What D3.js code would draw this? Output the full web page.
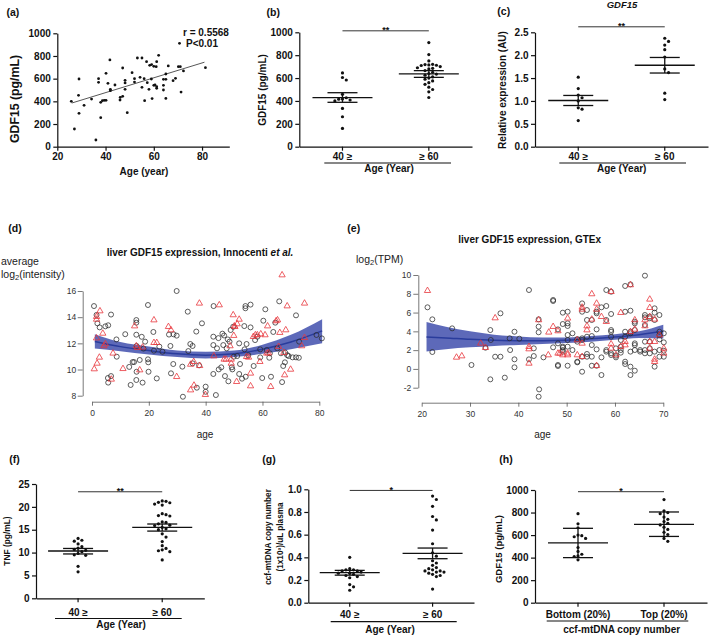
<!DOCTYPE html>
<html><head><meta charset="utf-8">
<script src="https://d3js.org/d3.v7.min.js"></script>
<style>html,body{margin:0;padding:0;background:#fff;}svg{display:block;}</style>
</head><body>
<script>
const FONT = '"Liberation Sans", Arial, Helvetica, sans-serif';

// ---------------- DATA ----------------
// (a) age vs GDF15
const aXTicks = [20, 40, 60, 80];
const aYTicks = [0, 200, 400, 600, 800, 1000];
const aPoints = [[25.8,400],[27.1,156],[29,597],[28.8,453],[29,294],[31.1,365],[34.2,420],[36,59],[37.1,600],[37.1,568],
 [38,256],[38,391],[38.7,406],[39.5,409],[40.2,409],[40.2,647],[41,559],[41.8,765],[42,506],[42,494],[43.9,544],[46,412],
 [46.1,435],[47.1,444],[47.1,694],[48.1,506],[48.1,585],[48.1,562],[49,300],[51,653],[52,600],[52,570],[53.2,782],[54.3,612],
 [55.1,782],[55.1,524],[56,600],[56.2,406],[57,750],[57.3,565],[58,506],[58.3,718],[59,597],[59.3,424],[59.1,724],[60,709],
 [60,541],[60.5,544],[61,706],[61.2,750],[61.2,529],[61.2,515],[62,806],[64,541],[64,500],[64,594],[65,426],[65,594],[65,641],
 [66,712],[68,582],[69,603],[70.2,706],[71,706],[71.3,482],[72.3,668],[81.4,697]];
const aRegAge = [26, 81];
const aRegFit = [385, 745];
const aStats = ["r = 0.5568", "P<0.01"];

// (b) GDF15 by age group
const ageCats = ["40 \u2265", "\u2265 60"];
const bYoung = [645,605,583,458,428,417,415,408,400,335,262,160];
const bOld = [910,805,750,720,718,715,712,710,700,690,685,680,665,650,640,635,625,610,600,590,575,560,545,520,500,480,430];
const bMean = [429, 636], bLo = [388, 606], bHi = [472, 665];

// (c) relative expression GDF15
const cYoung = [1.52,1.27,1.13,1.07,1.00,0.85,0.82,0.57];
const cOld = [2.37,2.30,2.22,2.12,1.96,1.70,1.62,1.17,1.03];
const cMean = [1.01, 1.78], cLo = [0.90, 1.61], cHi = [1.12, 1.95];

// (d) Innocenti liver GDF15 (age, average log2 intensity)
const dCircles = [[0.7,14.85],[1.6,14.17],[1.9,13.53],[2.7,13.22],[4.7,13.3],[5.7,13.38],[5.6,9.35],[5.7,9.0],[6.7,9.5],[6.7,14.2],
 [8.6,12.3],[8.7,10.98],[11.7,12.7],[13.1,10.2],[13.6,8.82],[14.3,10.57],[14.8,10.57],[15.6,13.78],[15.6,13.58],[15.6,12.66],
 [15.7,11.8],[15.7,9.83],[15.6,9.2],[16.8,10.73],[17.5,12.5],[18.1,11.6],[17.8,9.0],[18.7,12.13],[19.7,14.93],[19.7,10.78],
 [19.8,10.55],[19.9,9.83],[21.6,12.87],[21.8,11.44],[22.8,9.32],[23.7,11.75],[24.8,11.36],[27.1,12.67],[27.6,11.8],[27.8,9.71],
 [28.6,10.42],[28.7,12.69],[29.8,16.0],[29.8,12.59],[31.8,10.22],[32.0,7.92],[33.7,14.42],[33.9,11.41],[34.6,11.95],[35.4,11.8],
 [35.4,10.47],[36.7,12.9],[36.9,8.61],[37.7,10.32],[38.7,13.53],[40.0,8.69],[40.0,8.3],[42.7,12.51],[42.7,11.87],[42.7,9.66],
 [42.8,14.85],[43.6,8.05],[44,11.62],[44.6,10.01],[45.5,10.17],[45.9,12.74],[46.2,11.87],[46.8,9.5],[47.4,11.62],[48,9.1],
 [48.4,12.13],[48.8,13.02],[49.2,10.17],[49.4,10.01],[49.9,10.98],[51.1,11.03],[51.8,12.0],[51.8,9.66],[52.1,10.42],[52.8,9.3],
 [53.6,13.32],[53.7,11.54],[54.1,9.45],[54,14.85],[54,14.68],[54.4,11.95],[55,11.1],[55.8,14.96],[55.8,13.22],[56.9,10.27],
 [57.4,12.25],[58.2,12.51],[59.2,11.54],[59.2,10.93],[59.9,9.35],[60.3,13.73],[61,14.6],[61.5,11.49],[62.4,10.9],[62.6,11.24],
 [63,9.45],[63.8,12.87],[64.5,13.58],[65.2,11.62],[65.9,15.21],[66.5,11.24],[66.9,9.04],[67.3,10.27],[67.9,10.55],[68,11.29],
 [68.7,11.1],[69.2,11.03],[70.6,10.93],[71.8,14.14],[71.8,10.93],[72.8,10.9],[72.9,12.13],[79,12.64],[80.9,12.38],
 [49.7,13.27],[44.5,12.4],[46.5,12.6],[47.8,12.3]];
const dTriangles = [[0.8,10.04],[1.6,13.83],[1.6,14.04],[1.6,12.4],[1.8,10.47],[2.6,10.93],[2.8,14.47],[3.8,12.76],[4.7,11.95],
 [4.2,11.8],[6.8,9.25],[7.4,11.24],[10.9,10.06],[15,13.32],[15.6,11.8],[16,11.67],[16.8,9.96],[17.8,11.7],[21.8,13.78],[21.8,12.05],
 [22.8,12.05],[26.9,13.27],[27.8,13.02],[29.8,9.45],[34.7,10.39],[35.8,10.6],[35.9,8.79],[34.7,8.43],[37.8,15.06],[37.9,10.29],
 [39.9,8.08],[42.9,11.03],[44.8,14.93],[46.5,10.78],[47.2,10.78],[48.6,11.8],[49.0,10.78],[49.0,10.47],[49.7,14.17],[50.1,13.32],
 [49.9,12.59],[50.3,13.27],[51.1,13.48],[51.8,13.83],[50.9,9.07],[54.4,10.98],[55.1,10.93],[55.8,9.71],[55.8,8.74],[56.8,12.51],
 [57.5,12.64],[58.2,12.64],[59.1,10.6],[59.4,12.71],[60.9,12.64],[61.5,11.24],[61.8,13.32],[62.1,11.26],[62.9,8.69],[64.8,13.71],
 [65.3,13.78],[65.7,11.75],[66.1,12.82],[66.9,17.22],[67.5,11.29],[67.8,9.58],[68.2,13.02],[68.7,14.85],[69.9,10.01],[73.8,11.8],
 [74.8,15.06],[74.8,12.43]];
const dFitAge = [1, 10, 20, 30, 40, 50, 60, 70, 81];
const dFit = [12.15, 11.75, 11.45, 11.2, 11.1, 11.2, 11.55, 12.1, 12.95];
const dLo = [11.6, 11.4, 11.15, 10.95, 10.85, 10.95, 11.2, 11.55, 12.0];
const dHi = [12.7, 12.1, 11.75, 11.45, 11.35, 11.45, 11.9, 12.65, 13.85];
const dXTicks = [0, 20, 40, 60, 80], dYTicks = [8, 10, 12, 14, 16];

// (e) GTEx liver GDF15 (age, log2 TPM)
const eCircles = [[21.2,6.56],[22.2,5.28],[22.2,1.8],[26.3,4.32],[30.3,0.42],[33.2,2.26],[34.2,4.14],[34.3,3.08],[34.2,-1.11],
 [35.2,1.3],[36.3,1.3],[36.3,5.92],[37.2,-0.93],[38.2,3.26],[38.3,2.01],[39.2,3.96],[39.2,1.02],[39.2,0.17],[40.2,3.22],[42.2,8.4],
 [42.2,1.02],[43.2,1.37],[43.2,2.19],[44.2,5.28],[44.2,4.5],[44.2,3.9],[44.3,-2.18],[44.2,-2.96],[45.2,1.23],[47.2,7.34],[47.2,7.23],
 [47.2,2.3],[48.2,4.21],[48.2,2.72],[48.2,0.42],[48.2,0.31],[49.2,5.99],[49.2,4.78],[49.2,2.37],[49.2,2.26],[49.2,2.01],[49.2,1.84],
 [50.2,6.09],[50.2,4.85],[50.2,4.57],[50.2,3.61],[50.2,3.08],[50.2,2.37],[50.2,0.34],[51.2,2.01],[51.2,3.79],[52.2,3.18],[52.2,2.9],
 [52.2,0.77],[52.2,0.7],[53.2,6.98],[53.2,6.09],[53.2,3.26],[53.2,3.08],[53.2,1.3],[53.2,-0.3],[54.2,6.27],[54.2,5.21],[54.2,3.43],
 [54.2,1.59],[54.2,1.3],[55.2,5.21],[55.2,3.5],[55.2,2.54],[55.2,1.3],[55.2,0.34],[56.2,6.09],[56.2,5.92],[56.2,4.21],[56.2,2.08],
 [56.2,0.34],[57.2,6.56],[57.2,1.23],[57.2,-0.65],[58.2,8.4],[58.2,6.7],[58.2,5.21],[58.2,1.84],[58.2,2.01],[59.2,8.22],[59.2,5.85],
 [59.2,4.14],[59.2,3.96],[59.2,3.43],[59.2,1.66],[59.2,1.48],[60.2,2.19],[60.2,1.41],[60.2,1.23],[61.2,3.08],[61.2,2.37],[61.2,2.01],
 [61.2,1.73],[62.1,8.83],[62.1,6.09],[62.1,3.96],[62.1,3.43],[62.1,0.77],[62.1,0.52],[63.2,9.0],[63.2,6.2],[63.2,3.96],[63.2,3.79],
 [63.2,1.84],[63.2,0.24],[63.2,-0.65],[64.1,5.03],[64.1,4.85],[64.1,4.14],[64.1,2.72],[64.1,2.54],[64.1,2.01],[64.1,-0.19],[65.2,2.01],
 [65.2,1.84],[66.2,9.93],[66.2,5.74],[66.2,5.49],[66.2,4.68],[66.2,2.9],[66.2,2.01],[66.2,1.66],[67.2,5.56],[67.2,5.39],[67.2,2.9],
 [67.2,2.19],[67.2,1.66],[68.2,6.45],[68.2,5.99],[68.2,5.21],[68.2,1.84],[68.2,0.24],[69.2,5.74],[69.2,3.96],[69.2,3.61],[69.2,3.15],
 [69.2,2.01],[69.2,1.3],[70.1,3.79],[70.1,2.83],[70.1,1.94],[70.1,1.3]];
const eTriangles = [[21.2,8.33],[27.2,1.23],[28.3,1.37],[32.2,2.72],[33.2,2.26],[35.2,5.42],[42.2,2.37],[42.2,2.12],[42.2,0.59],
 [44.2,5.21],[46.2,1.48],[46.3,3.9],[47.2,4.5],[48.2,4.04],[48.2,1.66],[48.6,1.66],[49.2,1.48],[50.2,5.39],[50.2,1.66],[50.2,1.48],
 [52.2,1.48],[52.2,3.08],[53.2,6.56],[53.2,6.34],[53.2,2.72],[53.2,1.3],[54.2,4.57],[54.2,4.14],[55.2,7.98],[55.2,5.28],[56.2,6.98],
 [56.2,0.34],[56.2,6.34],[57.2,5.56],[58.2,5.03],[59.2,8.22],[59.2,2.65],[59.2,2.19],[60.2,1.48],[61.2,5.99],[61.2,2.37],[62.1,2.9],
 [62.1,2.54],[63.2,8.94],[63.2,3.96],[64.1,5.21],[64.1,4.21],[66.2,5.21],[66.2,4.57],[67.2,7.41],[67.2,6.52],[67.2,5.56],[67.2,2.9],
 [67.2,2.19],[68.2,5.28],[68.2,2.9],[68.2,1.02],[68.2,0.77],[69.2,3.61],[70.1,2.19],[70.1,1.66]];
const eFitAge = [21, 25, 30, 35, 40, 45, 50, 55, 60, 65, 70];
const eFit = [3.4, 3.3, 3.15, 3.05, 3.0, 3.0, 3.05, 3.2, 3.4, 3.65, 4.0];
const eLo = [1.85, 2.1, 2.3, 2.45, 2.55, 2.65, 2.75, 2.9, 3.1, 3.3, 3.25];
const eHi = [5.0, 4.5, 4.0, 3.65, 3.45, 3.35, 3.35, 3.5, 3.7, 4.0, 4.7];
const eXTicks = [20, 30, 40, 50, 60, 70], eYTicks = [-2, 0, 2, 4, 6, 8, 10];

// (f) TNF
const fYoung = [13.1,12.7,12.5,11.9,11.3,11.0,10.7,10.5,10.2,9.8,9.5,9.4,7.0,5.8];
const fOld = [21.3,21.2,21.0,20.9,20.6,20.4,18.5,18.3,18.1,18.0,16.7,16.6,16.3,16.0,15.9,15.5,15.2,15.0,14.1,13.4,12.4,11.5,10.9,10.6,10.4,10.2,8.4];
const fMean = [10.35, 15.5], fLo = [9.7, 14.7], fHi = [10.9, 16.25];

// (g) ccf-mtDNA
const gYoung = [0.40,0.30,0.29,0.29,0.28,0.28,0.27,0.26,0.26,0.25,0.24,0.23,0.22,0.16,0.14,0.11];
const gOld = [0.94,0.91,0.85,0.76,0.73,0.64,0.52,0.44,0.41,0.37,0.35,0.33,0.31,0.30,0.29,0.28,0.28,0.27,0.27,0.26,0.25,0.24,0.23,0.12];
const gMean = [0.265, 0.435], gLo = [0.243, 0.388], gHi = [0.285, 0.482];

// (h) GDF15 by ccf-mtDNA group
const hCats = ["Bottom (20%)", "Top (20%)"];
const hBottom = [790,700,665,600,595,585,570,490,455,430,415,410,380];
const hTop = [915,815,800,790,760,740,720,705,690,670,650,625,605,570,545];
const hMean = [530, 695], hLo = [400, 588], hHi = [660, 805];

// ---------------- DRAWING ----------------
const svg = d3.select("body").append("svg").attr("width", 709).attr("height", 636).attr("font-family", FONT);

function txt(x, y, s, o = {}) {
  const t = svg.append("text").attr("x", x).attr("y", y).text(s)
    .attr("font-size", o.size || 10).attr("font-weight", o.weight || "bold")
    .attr("fill", o.fill || "#111").attr("text-anchor", o.anchor || "start");
  if (o.style) t.attr("font-style", o.style);
  return t;
}
function vtxt(cx, cy, s, size) {
  return svg.append("text").attr("transform", `translate(${cx},${cy}) rotate(-90)`)
    .attr("text-anchor", "middle").attr("dy", "0.35em").attr("font-size", size)
    .attr("font-weight", "bold").attr("fill", "#111").text(s);
}
function styleGP(g) {
  g.attr("font-family", FONT).attr("font-size", 10).attr("font-weight", "bold");
  g.selectAll("path,line").attr("stroke", "#111").attr("stroke-width", 1.2);
  g.selectAll("text").attr("fill", "#111");
  return g;
}
function swarm(ys, d) {
  const placed = [], off = new Array(ys.length);
  const order = ys.map((_, i) => i).sort((a, b) => ys[a] - ys[b]);
  order.forEach(i => {
    for (let k = 0; k < 60; k++) {
      const step = Math.ceil(k / 2) * (k % 2 ? 1 : -1);
      const cand = step * d;
      const hit = placed.some(p => (p.x - cand) ** 2 + (p.y - ys[i]) ** 2 < d * d * 0.95);
      if (!hit) { off[i] = cand; placed.push({ x: cand, y: ys[i] }); break; }
    }
  });
  return off;
}

// ---- panel (a)
{
  const x = d3.scaleLinear().domain([20, 91.3]).range([57.3, 229.3]);
  const y = d3.scaleLinear().domain([0, 1000]).range([146.7, 33.3]);
  styleGP(svg.append("g").attr("transform", "translate(0,146.7)")
    .call(d3.axisBottom(x).tickValues(aXTicks).tickFormat(d3.format("d")).tickSize(4).tickSizeOuter(0).tickPadding(2.7)));
  styleGP(svg.append("g").attr("transform", "translate(57.3,0)")
    .call(d3.axisLeft(y).tickValues(aYTicks).tickFormat(d3.format("d")).tickSize(4).tickSizeOuter(0).tickPadding(2.5)));
  svg.append("line").attr("x1", x(aRegAge[0])).attr("y1", y(aRegFit[0]))
    .attr("x2", x(aRegAge[1])).attr("y2", y(aRegFit[1])).attr("stroke", "#444").attr("stroke-width", 0.9);
  svg.append("g").selectAll("circle").data(aPoints).join("circle")
    .attr("cx", d => x(d[0])).attr("cy", d => y(d[1])).attr("r", 1.4).attr("fill", "#111");
  txt(183, 35.5, aStats[0]);
  txt(186, 47, aStats[1]);
  svg.append("circle").attr("cx", 179.5).attr("cy", 43.3).attr("r", 1.4).attr("fill", "#111");
  vtxt(14.5, 99, "GDF15 (pg/mL)", 12.3);
  txt(144, 175, "Age (year)", { anchor: "middle" });
  txt(6.5, 15.5, "(a)", { size: 10.5 });
}

// ---- dot panels
function dotPanel(o) {
  const x = d3.scaleBand().domain(o.cats).range([o.x0, o.x1]);
  const y = d3.scaleLinear().domain(o.domain).range([o.yb, o.yt]);
  styleGP(svg.append("g").attr("transform", `translate(${o.x0},0)`)
    .call(d3.axisLeft(y).tickValues(o.ticks).tickFormat(d3.format(o.fmt)).tickSize(4).tickSizeOuter(0).tickPadding(2.5)));
  styleGP(svg.append("g").attr("transform", `translate(0,${o.yb})`)
    .call(d3.axisBottom(x).tickSize(4).tickSizeOuter(0).tickPadding(o.catPad)));
  const cx = c => x(c) + x.bandwidth() / 2;
  o.groups.forEach((vals, i) => {
    const c = cx(o.cats[i]);
    const offs = swarm(vals.map(v => y(v)), 3.8);
    svg.append("g").selectAll("circle").data(vals).join("circle")
      .attr("cx", (d, j) => c + offs[j]).attr("cy", d => y(d)).attr("r", 1.6).attr("fill", "#111");
    const g = svg.append("g").attr("stroke", "#111").attr("stroke-width", 1.3);
    g.append("line").attr("x1", c - 30).attr("x2", c + 30).attr("y1", y(o.mean[i])).attr("y2", y(o.mean[i]));
    g.append("line").attr("x1", c).attr("x2", c).attr("y1", y(o.lo[i])).attr("y2", y(o.hi[i]));
    g.append("line").attr("x1", c - 15).attr("x2", c + 15).attr("y1", y(o.lo[i])).attr("y2", y(o.lo[i]));
    g.append("line").attr("x1", c - 15).attr("x2", c + 15).attr("y1", y(o.hi[i])).attr("y2", y(o.hi[i]));
  });
  const sy = y(o.sigY);
  svg.append("line").attr("x1", cx(o.cats[0])).attr("x2", cx(o.cats[1])).attr("y1", sy).attr("y2", sy)
    .attr("stroke", "#333").attr("stroke-width", 1);
  txt((cx(o.cats[0]) + cx(o.cats[1])) / 2, sy + 2.5, o.sigText, { anchor: "middle", size: 9 });
  svg.append("line").attr("x1", o.ul[0]).attr("x2", o.ul[1]).attr("y1", o.ul[2]).attr("y2", o.ul[2])
    .attr("stroke", "#111").attr("stroke-width", 1.2);
  txt(o.xt[0], o.xt[1], o.xTitle, { anchor: "middle" });
  if (Array.isArray(o.yTitle)) {
    o.yTitle.forEach((t, k) => vtxt(o.ytx[k], o.yty, t, o.ytSize));
  } else vtxt(o.ytx, o.yty, o.yTitle, o.ytSize);
  txt(o.lab[0], o.lab[1], o.label, { size: 10.5 });
}

dotPanel({ cats: ageCats, x0: 299.3, x1: 472, yb: 146.7, yt: 32.3, domain: [0, 1000], ticks: [0, 200, 400, 600, 800, 1000], fmt: "d",
  catPad: 2.7, groups: [bYoung, bOld], mean: bMean, lo: bLo, hi: bHi, sigY: 1013, sigText: "**",
  ul: [324.3, 451, 163], xTitle: "Age (Year)", xt: [389, 172], yTitle: "GDF15 (pg/mL)", ytx: 262, yty: 90, ytSize: 10,
  label: "(b)", lab: [266.5, 15.5] });

dotPanel({ cats: ageCats, x0: 535, x1: 708, yb: 146.7, yt: 32.3, domain: [0, 2.5], ticks: [0, 0.5, 1, 1.5, 2, 2.5], fmt: ".1f",
  catPad: 2.2, groups: [cYoung, cOld], mean: cMean, lo: cLo, hi: cHi, sigY: 2.62, sigText: "**",
  ul: [559.3, 686, 163], xTitle: "Age (Year)", xt: [621.7, 172], yTitle: "Relative expression (AU)", ytx: 502.7, yty: 90, ytSize: 10,
  label: "(c)", lab: [497.3, 15] });
txt(622, 7.5, "GDF15", { anchor: "middle", style: "italic", size: 9.5 });

dotPanel({ cats: ageCats, x0: 36, x1: 204.3, yb: 598.3, yt: 484, domain: [0, 25], ticks: [0, 5, 10, 15, 20, 25], fmt: "d",
  catPad: 6.3, groups: [fYoung, fOld], mean: fMean, lo: fLo, hi: fHi, sigY: 23.3, sigText: "**",
  ul: [55, 181.7, 618.5], xTitle: "Age (Year)", xt: [121, 628], yTitle: "TNF (pg/mL)", ytx: 7, yty: 541, ytSize: 8.4,
  label: "(f)", lab: [9.3, 463.3] });

dotPanel({ cats: ageCats, x0: 308.3, x1: 474, yb: 602.7, yt: 489.3, domain: [0, 1], ticks: [0, 0.2, 0.4, 0.6, 0.8, 1.0], fmt: ".1f",
  catPad: 4.5, groups: [gYoung, gOld], mean: gMean, lo: gLo, hi: gHi, sigY: 0.99, sigText: "*",
  ul: [330.7, 456.7, 621.7], xTitle: "Age (Year)", xt: [390, 633.3],
  yTitle: ["ccf-mtDNA copy number", "(1x10\u00B3)/uL plasma"], ytx: [268.3, 280], yty: 537, ytSize: 8.2,
  label: "(g)", lab: [262.3, 463.3] });

dotPanel({ cats: hCats, x0: 535, x1: 707, yb: 602.7, yt: 490, domain: [0, 1000], ticks: [0, 200, 400, 600, 800, 1000], fmt: "d",
  catPad: 4.5, groups: [hBottom, hTop], mean: hMean, lo: hLo, hi: hHi, sigY: 985, sigText: "*",
  ul: [546.7, 688.3, 621], xTitle: "ccf-mtDNA copy number", xt: [621.7, 632.5], yTitle: "GDF15 (pg/mL)", ytx: 498.5, yty: 549, ytSize: 9.5,
  label: "(h)", lab: [499.3, 463.3] });

// ---- R-style panels (d), (e)
function rPanel(o) {
  const x = d3.scaleLinear().domain(o.xDom).range(o.xRange);
  const y = d3.scaleLinear().domain(o.yDom).range(o.yRange);
  const styleR = g => {
    g.attr("font-family", FONT).attr("font-size", 8.5).attr("font-weight", "normal");
    g.selectAll("path,line").attr("stroke", "#555").attr("stroke-width", 0.8);
    g.selectAll("text").attr("fill", "#333");
  };
  styleR(svg.append("g").attr("transform", `translate(0,${o.xAxisY})`)
    .call(d3.axisBottom(x).tickValues(o.xTicks).tickSize(4).tickSizeOuter(0).tickPadding(4).tickFormat(d => String(d))));
  styleR(svg.append("g").attr("transform", `translate(${o.yAxisX},0)`)
    .call(d3.axisLeft(y).tickValues(o.yTicks).tickSize(5).tickSizeOuter(0).tickPadding(o.yPad).tickFormat(d => String(d))));
  const idx = d3.range(o.fitAge.length);
  svg.append("path").datum(idx)
    .attr("d", d3.area().x(i => x(o.fitAge[i])).y0(i => y(o.lo[i])).y1(i => y(o.hi[i])).curve(d3.curveMonotoneX))
    .attr("fill", "#4f5cb3").attr("opacity", 0.92);
  svg.append("path").datum(idx)
    .attr("d", d3.line().x(i => x(o.fitAge[i])).y(i => y(o.fit[i])).curve(d3.curveMonotoneX))
    .attr("fill", "none").attr("stroke", "#2a3c9c").attr("stroke-width", 1.5);
  svg.append("g").selectAll("circle").data(o.circles).join("circle")
    .attr("cx", d => x(d[0])).attr("cy", d => y(d[1])).attr("r", 2.5)
    .attr("fill", "none").attr("stroke", "#2a2a2a").attr("stroke-width", 0.75);
  const tri = d3.symbol(d3.symbolTriangle).size(17);
  svg.append("g").selectAll("path").data(o.triangles).join("path")
    .attr("transform", d => `translate(${x(d[0])},${y(d[1])})`).attr("d", tri)
    .attr("fill", "none").attr("stroke", "#e8363c").attr("stroke-width", 0.8);
  txt(o.ageX, 438, "age", { anchor: "middle", weight: "normal", size: 10, fill: "#222" });
}

rPanel({ xDom: [0, 80], xRange: [92, 319.3], yDom: [8, 16], yRange: [395.7, 291], xAxisY: 401.7, yAxisX: 82.7, yPad: 1.5,
  xTicks: dXTicks, yTicks: dYTicks, fitAge: dFitAge, fit: dFit, lo: dLo, hi: dHi, circles: dCircles, triangles: dTriangles, ageX: 205 });
rPanel({ xDom: [20, 70], xRange: [421.7, 663.3], yDom: [-2, 10], yRange: [387.7, 275], xAxisY: 402.7, yAxisX: 418.3, yPad: 2,
  xTicks: eXTicks, yTicks: eYTicks, fitAge: eFitAge, fit: eFit, lo: eLo, hi: eHi, circles: eCircles, triangles: eTriangles, ageX: 542.5 });

// titles for (d), (e)
{
  const t = txt(200, 255.7, "liver GDF15 expression, Innocenti ", { anchor: "middle", size: 10 });
  t.append("tspan").attr("font-style", "italic").text("et al.");
  txt(529.7, 242.7, "liver GDF15 expression, GTEx", { anchor: "middle", size: 10 });
  txt(1, 265, "average", { weight: "normal", size: 10.5, fill: "#222" });
  const l1 = txt(1, 277.5, "log", { weight: "normal", size: 10.5, fill: "#222" });
  l1.append("tspan").attr("font-size", 7.5).attr("dy", 2).text("2");
  l1.append("tspan").attr("dy", -2).text("(intensity)");
  const l2 = txt(356, 263.3, "log", { weight: "normal", size: 10.5, fill: "#222" });
  l2.append("tspan").attr("font-size", 7.5).attr("dy", 2).text("2");
  l2.append("tspan").attr("dy", -2).text("(TPM)");
  txt(8.3, 231.7, "(d)", { size: 10.5 });
  txt(347.3, 231.7, "(e)", { size: 10.5 });
}
</script>
</body></html>
